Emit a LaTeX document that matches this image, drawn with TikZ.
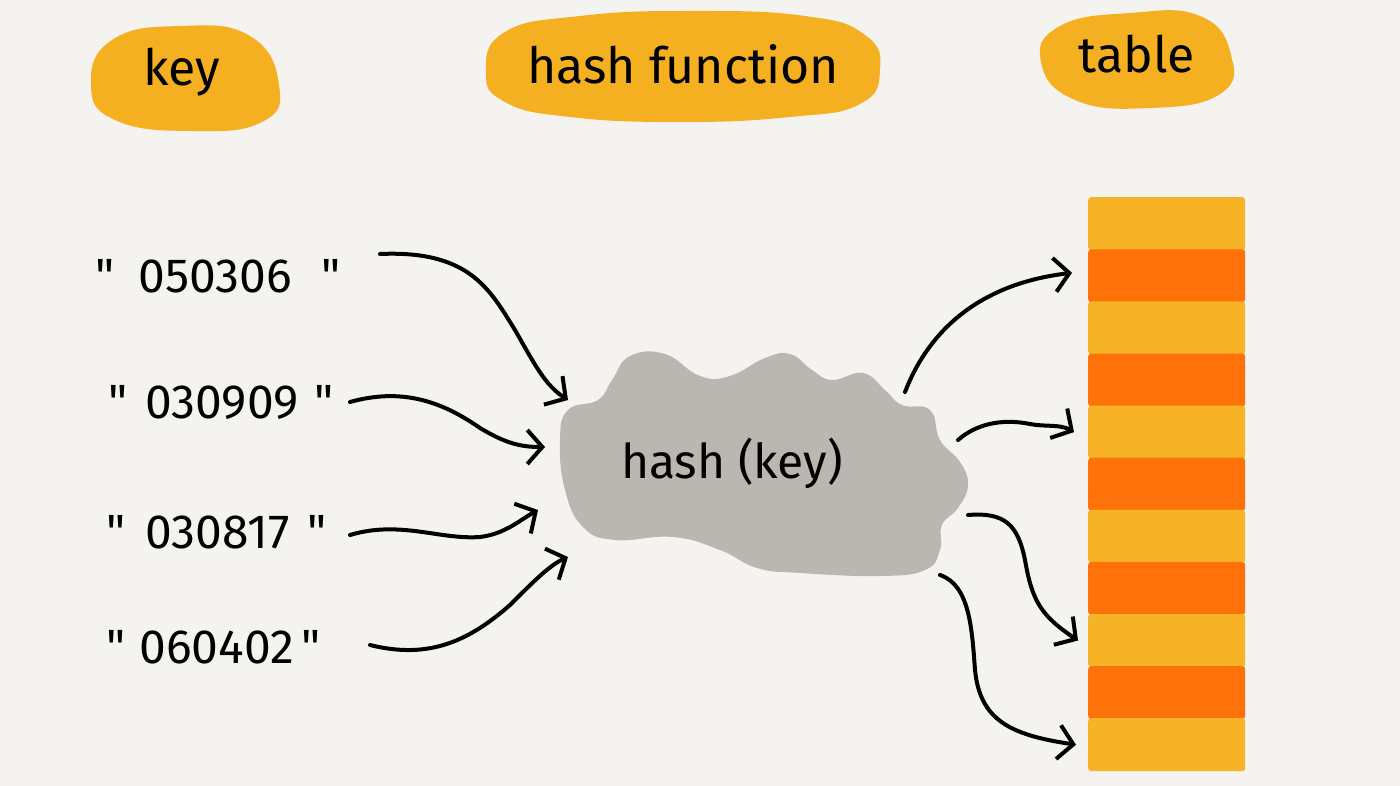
\documentclass[tikz,border=0pt]{standalone}
\usepackage{fontspec}
\setmainfont{Fira Sans}[Ligatures=TeXOff]
\usetikzlibrary{arrows.meta}
\definecolor{bg}{HTML}{F5F3EF}
\definecolor{blobc}{HTML}{F5B022}
\definecolor{cloudgray}{HTML}{B9B7AF}
\definecolor{stripeY}{HTML}{F6B326}
\definecolor{stripeO}{HTML}{FF720A}
\begin{document}
\begin{tikzpicture}[x=1pt,y=-1pt,
  lbl/.style={font=\fontsize{48}{52}\selectfont, text=black, inner sep=0pt},
  hdr/.style={font=\fontsize{50}{54}\selectfont, text=black, inner sep=0pt},
  arr/.style={line width=4pt, line cap=round, line join=round,
    -{Straight Barb[length=15pt,width=34pt,line width=4pt]}},
  stripebox/.style={minimum width=157pt, minimum height=53pt, inner sep=0pt,
    rounded corners=3pt, draw=none, anchor=north west},
]
\fill[bg] (0,0) rectangle (1400,786);
\useasboundingbox (0,0) rectangle (1400,786);

% header blobs
\fill[blobc] plot[smooth cycle, tension=0.8] coordinates {(91,85) (112,40) (180,26) (250,36) (279,85) (262,122) (190,131) (115,120)};
\fill[blobc] plot[smooth cycle, tension=0.8] coordinates {(486,72) (505,32) (580,16) (690,11) (805,16) (865,35) (880,70) (860,104) (790,117) (680,122) (570,117) (505,102)};
\fill[blobc] plot[smooth cycle, tension=0.8] coordinates {(1041,62) (1060,26) (1130,13) (1200,16) (1231,55) (1220,94) (1150,108) (1075,100)};
\node[hdr, anchor=base] (keyhdr) at (182,86) {key};
\node[hdr, anchor=base] (hashhdr) at (683,84) {hash function};
\node[hdr, anchor=base] (tablehdr) at (1137,73) {table};

% keys
\node[lbl, anchor=base west] (k1) at (95,293) {"\hspace{24pt}050306\hspace{30pt}"};
\node[lbl, anchor=base west] (k2) at (108,418) {"\hspace{18pt}030909\hspace{16pt}"};
\node[lbl, anchor=base west] (k3) at (106,548) {"\hspace{20pt}030817\hspace{18pt}"};
\node[lbl, anchor=base west] (k4) at (106,663) {"\hspace{14pt}060402\hspace{8pt}"};

% cloud
\fill[cloudgray] plot[smooth cycle, tension=0.75] coordinates {
 (612,380) (630,356) (665,354) (700,376) (730,376) (765,358) (790,354) (812,370)
 (832,380) (863,373) (885,390) (902,405) (930,410) (940,440) (960,462) (968,485)
 (958,508) (942,525) (940,550) (925,570) (880,576) (800,573) (757,568) (720,550)
 (673,537) (615,540) (583,527) (565,490) (560,440) (568,410) (598,400)};
\node[lbl, anchor=base] (hashk) at (732,478) {hash (key)};

% table stripes
\foreach \i in {1,...,11}{
  \pgfmathtruncatemacro{\odd}{mod(\i,2)}
  \ifnum\odd=1 \def\sc{stripeY}\else\def\sc{stripeO}\fi
  \node[stripebox, fill=\sc] (s\i) at (1088,{197+(\i-1)*52.1}) {};
}

% connector end points
\coordinate (a1s) at (380,254);
\coordinate (a1e) at (568,400);
\coordinate (a2s) at (350,402);
\coordinate (a2e) at (545,447);
\coordinate (a3s) at (350,535);
\coordinate (a3e) at (538,510);
\coordinate (a4s) at (370,645);
\coordinate (a4e) at (568,557);
\coordinate (b1s) at (905,392);
\coordinate (b2s) at (958,440);
\coordinate (b3s) at (968,515);
\coordinate (b4s) at (940,575);

% left arrows
\draw[arr] (a1s) .. controls (470,250) and (490,290) .. (515,330) .. controls (535,365) and (545,385) .. (a1e);
\draw[arr] (a2s) .. controls (400,388) and (440,400) .. (480,428) .. controls (505,443) and (520,447) .. (a2e);
\draw[arr] (a3s) .. controls (400,520) and (440,540) .. (480,537) .. controls (505,534) and (520,520) .. (a3e);
\draw[arr] (a4s) .. controls (430,660) and (470,640) .. (510,605) .. controls (535,580) and (550,565) .. (a4e);

% right arrows
\draw[arr] (b1s) .. controls (925,340) and (970,285) .. ([xshift=-16pt,yshift=3pt]s2.west);
\draw[arr] (b2s) .. controls (975,425) and (1000,418) .. (1030,424) .. controls (1045,427) and (1060,424) .. ([xshift=-14pt]s5.west);
\draw[arr] (b3s) .. controls (1005,512) and (1018,525) .. (1025,560) .. controls (1032,600) and (1040,615) .. ([xshift=-10pt]s9.west);
\draw[arr] (b4s) .. controls (970,585) and (972,630) .. (975,670) .. controls (980,720) and (1010,735) .. ([xshift=-12pt]s11.west);
\end{tikzpicture}
\end{document}
